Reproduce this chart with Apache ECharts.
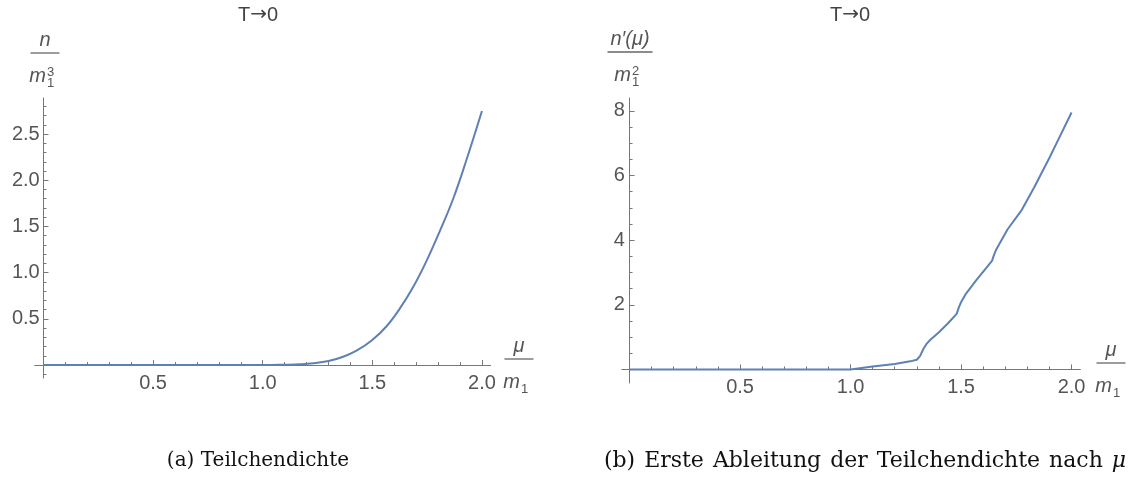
<!DOCTYPE html>
<html>
<head>
<meta charset="utf-8">
<script src="https://cdn.jsdelivr.net/npm/echarts@6/dist/echarts.min.js"></script>
<style>
  html, body { margin: 0; padding: 0; background: #fff; }
  #chart { width: 1136px; height: 480px; }
</style>
</head>
<body>
<div id="chart"></div>
<script>
// Particle density n(mu) at T -> 0, in units of m1^3
const muDensity = [0, 0.5, 1.0, 1.1, 1.17, 1.23, 1.3, 1.367, 1.428, 1.497, 1.565, 1.626, 1.687, 1.748, 1.808, 1.869, 1.93, 2.0];
const density   = [0, 0, 0, 0.004, 0.009, 0.019, 0.043, 0.09, 0.155, 0.265, 0.42, 0.613, 0.847, 1.13, 1.45, 1.80, 2.225, 2.75];

// First derivative n'(mu), in units of m1^2
const muDeriv = [0, 0.5, 1.0, 1.1, 1.2, 1.27, 1.3, 1.315, 1.33, 1.345, 1.36, 1.40, 1.44, 1.48, 1.49, 1.5, 1.52, 1.57, 1.64, 1.65, 1.66, 1.71, 1.775, 1.83, 1.9, 1.95, 2.0];
const deriv   = [0, 0, 0, 0.09, 0.17, 0.25, 0.30, 0.42, 0.64, 0.80, 0.91, 1.15, 1.42, 1.72, 1.92, 2.08, 2.32, 2.77, 3.36, 3.56, 3.72, 4.33, 4.94, 5.62, 6.55, 7.25, 7.95];

// Tick labels
const muTicks = [0.5, 1.0, 1.5, 2.0];
const densityTicks = [0.5, 1.0, 1.5, 2.0, 2.5];
const derivTicks = [2, 4, 6, 8];

const captionA = '(a) Teilchendichte';
const captionBWords = ['(b)', 'Erste', 'Ableitung', 'der', 'Teilchendichte', 'nach'];

const LINE = '#5e81b5';
const AXIS = '#777777';
const LABEL = '#555555';
const SANS = '"Liberation Sans", Arial, sans-serif';
const SERIF = '"DejaVu Serif", "Liberation Serif", serif';

// minor tick positions between majors
function minorTicks(lo, hi, step, majorStep) {
  const out = [];
  const n = Math.round((hi - lo) / step);
  for (let i = 0; i <= n; i++) {
    const v = +(lo + i * step).toFixed(6);
    const r = v / majorStep;
    if (Math.abs(r - Math.round(r)) > 1e-6) out.push(v);
  }
  return out;
}

function pairs(xs, ys) { return xs.map((x, i) => [x, ys[i]]); }

function xAxes(grid, min, max, majors, minors, margin) {
  return [
    {
      type: 'value', gridIndex: grid, min: min, max: max, position: 'bottom',
      axisLine: { show: true, onZero: true, lineStyle: { color: AXIS, width: 1 } },
      axisTick: { show: true, inside: true, length: 5, customValues: majors, lineStyle: { color: AXIS } },
      axisLabel: { show: true, customValues: majors, margin: margin, color: LABEL, fontSize: 20, fontFamily: SANS,
                   formatter: v => v.toFixed(1) },
      splitLine: { show: false }
    },
    {
      type: 'value', gridIndex: grid, min: min, max: max, position: 'bottom',
      axisLine: { show: false, onZero: true },
      axisTick: { show: true, inside: true, length: 3, customValues: minors, lineStyle: { color: AXIS } },
      axisLabel: { show: false },
      splitLine: { show: false }
    }
  ];
}

function yAxes(grid, min, max, majors, minors, fmt, margin) {
  return [
    {
      type: 'value', gridIndex: grid, min: min, max: max, position: 'left',
      axisLine: { show: true, onZero: true, lineStyle: { color: AXIS, width: 1 } },
      axisTick: { show: true, inside: true, length: 5, customValues: majors, lineStyle: { color: AXIS } },
      axisLabel: { show: true, customValues: majors, margin: margin, color: LABEL, fontSize: 20, fontFamily: SANS,
                   formatter: fmt },
      splitLine: { show: false }
    },
    {
      type: 'value', gridIndex: grid, min: min, max: max, position: 'left',
      axisLine: { show: false, onZero: true },
      axisTick: { show: true, inside: true, length: 3, customValues: minors, lineStyle: { color: AXIS } },
      axisLabel: { show: false },
      splitLine: { show: false }
    }
  ];
}

// stacked fraction label: numerator / bar / m with sub- and superscript
function fraction(cx, lineY, halfW, numer, sup, sub) {
  const els = [
    { type: 'text', x: cx, y: lineY - 3, style: { text: numer, fill: LABEL, font: 'italic 20px ' + SANS, align: 'center', verticalAlign: 'bottom' } },
    { type: 'line', shape: { x1: cx - halfW, y1: lineY, x2: cx + halfW, y2: lineY }, style: { stroke: '#666', lineWidth: 1.3 } },
    { type: 'text', x: cx + 1, y: lineY + 33, style: { text: 'm', fill: LABEL, font: 'italic 20px ' + SANS, align: 'right', verticalAlign: 'bottom' } },
    { type: 'text', x: cx + 2, y: lineY + 37, style: { text: sub, fill: LABEL, font: '13px ' + SANS, align: 'left', verticalAlign: 'bottom' } }
  ];
  if (sup) {
    els.push({ type: 'text', x: cx + 2, y: lineY + 26, style: { text: sup, fill: LABEL, font: '13px ' + SANS, align: 'left', verticalAlign: 'bottom' } });
  }
  return els;
}

// "T -> 0" heading over each panel
function heading(cx) {
  return {
    type: 'text', x: cx, y: 15,
    style: {
      text: '{a|T}{b|\u2192}{a|0}', align: 'center', verticalAlign: 'middle',
      rich: {
        a: { fill: '#444', font: '20px ' + SANS },
        b: { fill: '#444', font: '20px "DejaVu Sans", sans-serif' }
      }
    }
  };
}

// caption of panel (b): words joined by inter-word glue, math mu in italics
function captionB() {
  const parts = [];
  captionBWords.forEach(w => { parts.push('{r|' + w + '}'); parts.push('{s|}'); });
  parts.push('{i|\u03bc}');
  return {
    type: 'text', x: 865, y: 461,
    style: {
      text: parts.join(''), align: 'center', verticalAlign: 'middle',
      rich: {
        r: { fill: '#111', font: '22px ' + SERIF },
        s: { width: 9, font: '22px ' + SERIF },
        i: { fill: '#111', font: 'italic 22px ' + SERIF }
      }
    }
  };
}

const chart = echarts.init(document.getElementById('chart'), null, { renderer: 'canvas' });

chart.setOption({
  animation: false,
  backgroundColor: '#ffffff',
  grid: [
    { left: 34.7, top: 98, width: 456, height: 280, containLabel: false },
    { left: 621.8, top: 98, width: 458.6, height: 285, containLabel: false }
  ],
  xAxis: [
    ...xAxes(0, -0.04, 2.04, muTicks, minorTicks(0, 2.0, 0.1, 0.5), -5),
    ...xAxes(1, -0.035, 2.04, muTicks, minorTicks(0, 2.0, 0.1, 0.5), -6)
  ],
  yAxis: [
    ...yAxes(0, -0.14, 2.89, densityTicks, minorTicks(-0.1, 2.8, 0.1, 0.5), v => v.toFixed(1), -5),
    ...yAxes(1, -0.42, 8.4, derivTicks, minorTicks(0, 8, 0.5, 2), v => String(v), -3)
  ],
  series: [
    {
      type: 'line', xAxisIndex: 0, yAxisIndex: 0, data: pairs(muDensity, density),
      showSymbol: false, smooth: 0.4,
      lineStyle: { color: LINE, width: 2 }, clip: false
    },
    {
      type: 'line', xAxisIndex: 2, yAxisIndex: 2, data: pairs(muDeriv, deriv),
      showSymbol: false, smooth: false,
      lineStyle: { color: LINE, width: 2 }, clip: false
    }
  ],
  graphic: [
    heading(258),
    heading(850),

    ...fraction(45, 53, 14.5, 'n', '3', '1'),
    ...fraction(630, 52, 22.5, 'n\u2032(\u03bc)', '2', '1'),
    ...fraction(519, 359, 14.5, '\u03bc', null, '1'),
    ...fraction(1111, 363, 14.5, '\u03bc', null, '1'),

    { type: 'text', x: 258, y: 461, style: { text: captionA, fill: '#111', font: '20px ' + SERIF, align: 'center', verticalAlign: 'middle' } },
    captionB()
  ]
});
</script>
</body>
</html>
